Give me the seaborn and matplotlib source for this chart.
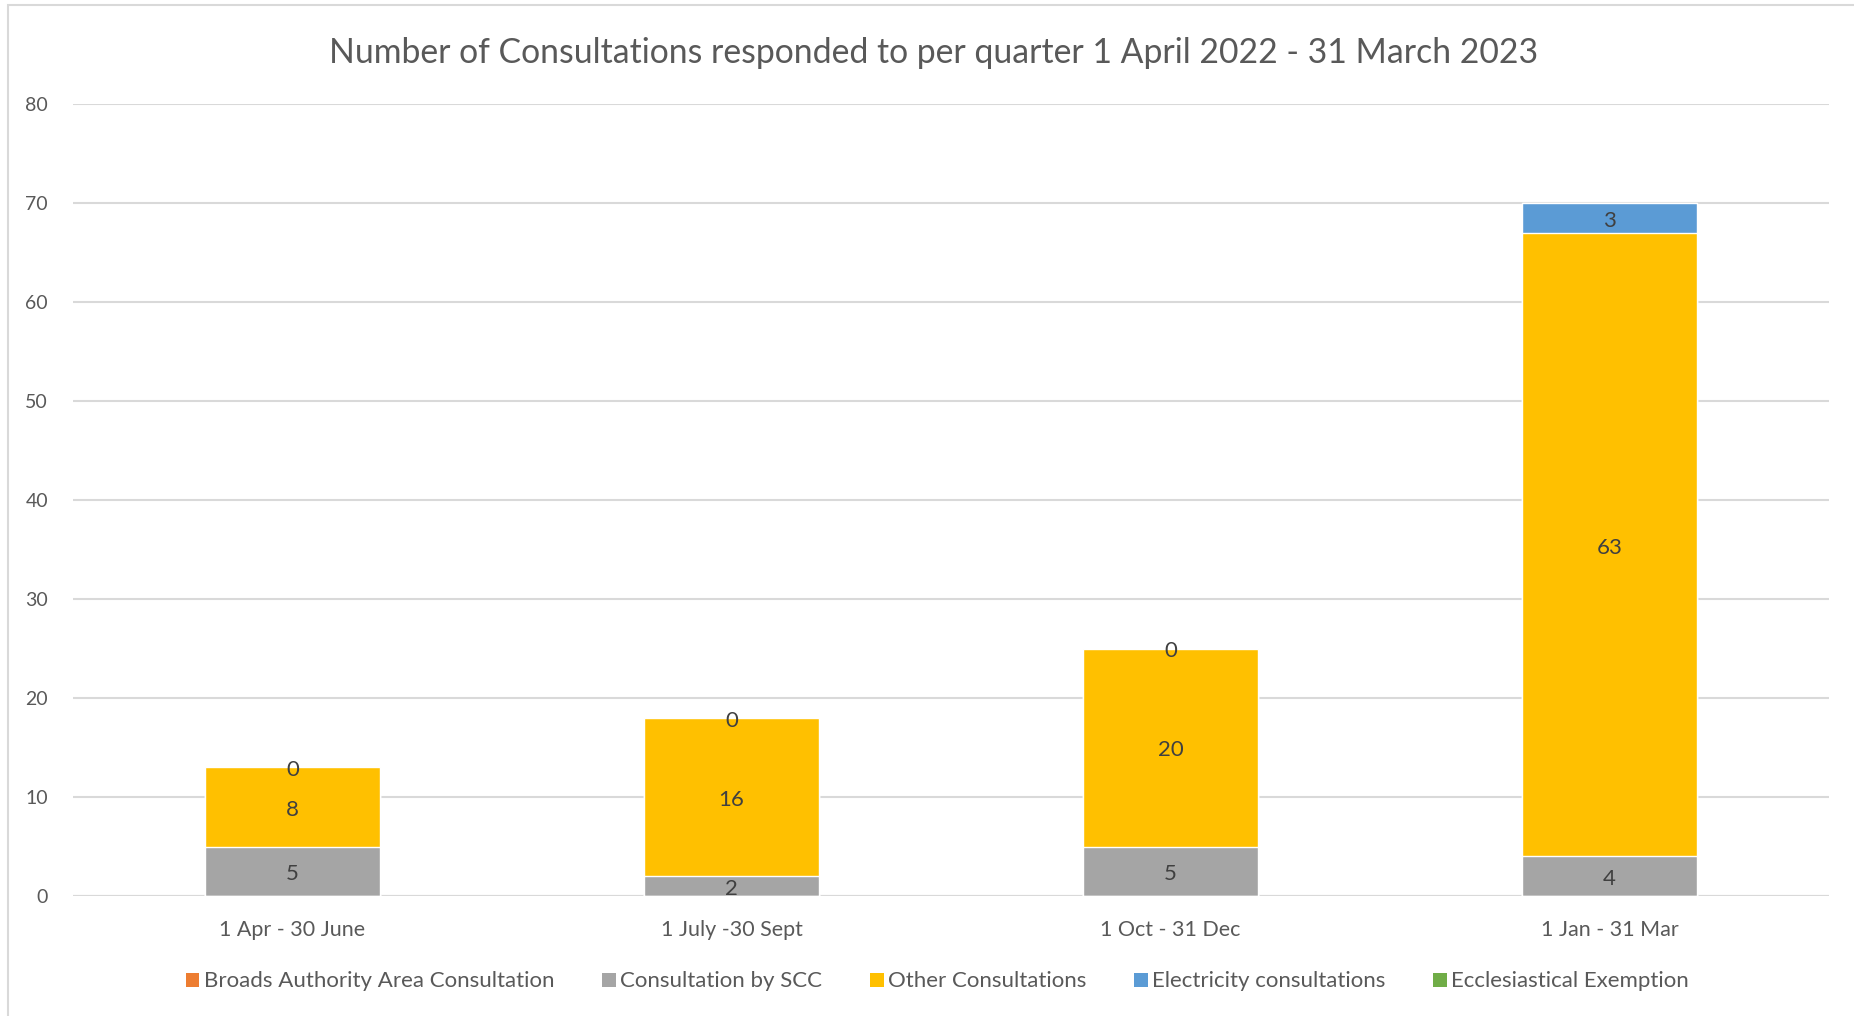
import pandas as pd
import numpy as np
import matplotlib
matplotlib.use("Agg")
import matplotlib.pyplot as plt
from matplotlib.patches import Patch, Rectangle
import seaborn as sns

# Data
quarters = ["1 Apr - 30 June", "1 July -30 Sept", "1 Oct - 31 Dec", "1 Jan - 31 Mar"]
broads = [0, 0, 0, 0]
scc = [5, 2, 5, 4]
other = [8, 16, 20, 63]
electricity = [0, 0, 0, 3]
ecclesiastical = [0, 0, 0, 0]

series_names = ["Broads Authority Area Consultation", "Consultation by SCC",
                "Other Consultations", "Electricity consultations",
                "Ecclesiastical Exemption"]
colors = ["#ed7d31", "#a5a5a5", "#ffc000", "#5b9bd5", "#70ad47"]

sns.set_theme(style="white")
plt.rcParams["font.family"] = ["Lato", "DejaVu Sans"]

df = pd.DataFrame({
    "quarter": quarters,
    "broads": broads,
    "scc": scc,
    "other": other,
    "electricity": electricity,
    "ecclesiastical": ecclesiastical,
})
# cumulative heights for stacking (draw tallest first)
df["c_broads"] = df["broads"]
df["c_scc"] = df["c_broads"] + df["scc"]
df["c_other"] = df["c_scc"] + df["other"]
df["c_elec"] = df["c_other"] + df["electricity"]
df["c_eccl"] = df["c_elec"] + df["ecclesiastical"]

fig = plt.figure(figsize=(18.54, 10.16), dpi=100)
ax = fig.add_axes([0.0394, 0.1181, 0.9471, 0.7795])

layers = [("c_eccl", colors[4]), ("c_elec", colors[3]), ("c_other", colors[2]),
          ("c_scc", colors[1]), ("c_broads", colors[0])]
for col, c in layers:
    sns.barplot(data=df, x="quarter", y=col, color=c, width=0.4,
                saturation=1, ax=ax, zorder=3)

ax.set_xlim(-0.5, 3.5)
ax.set_ylim(0, 80)
ax.set_yticks(np.arange(0, 81, 10))
ax.yaxis.grid(True, color="#d9d9d9", linewidth=1.5, zorder=0)
ax.set_axisbelow(True)
for s in ax.spines.values():
    s.set_visible(False)
ax.axhline(0, color="#d9d9d9", linewidth=1.5, zorder=1)
ax.set_xlabel("")
ax.set_ylabel("")
ax.tick_params(axis="y", length=0, pad=18, labelsize=14, labelcolor="#595959")
ax.tick_params(axis="x", length=0, pad=17, labelsize=15.5, labelcolor="#595959")

# data labels
lab_kw = dict(ha="center", va="center", fontsize=16, color="#404040", zorder=5)
for i in range(len(quarters)):
    ax.text(i, df["c_broads"][i] + scc[i] / 2 - 0.3, str(scc[i]), **lab_kw)
    ax.text(i, df["c_scc"][i] + other[i] / 2 - 0.3, str(other[i]), **lab_kw)
    ax.text(i, df["c_other"][i] + electricity[i] / 2 - 0.3, str(electricity[i]), **lab_kw)

fig.text(0.5035, 0.948, "Number of Consultations responded to per quarter 1 April 2022 - 31 March 2023",
         ha="center", va="center", fontsize=24.3, color="#595959")

handles = [Patch(facecolor=c, edgecolor="none", label=n) for n, c in zip(series_names, colors)]
fig.legend(handles=handles, loc="center", bbox_to_anchor=(0.5057, 0.034), ncol=5,
           frameon=False, fontsize=16, labelcolor="#595959", handlelength=0.6,
           handleheight=0.6, handletextpad=0.2, columnspacing=2.16)

# outer chart border
fig.add_artist(Rectangle((0.0045, -0.01), 1.0, 1.005, transform=fig.transFigure,
                         fill=False, edgecolor="#d9d9d9", linewidth=1.5))

fig.savefig("out.png", dpi=100)
